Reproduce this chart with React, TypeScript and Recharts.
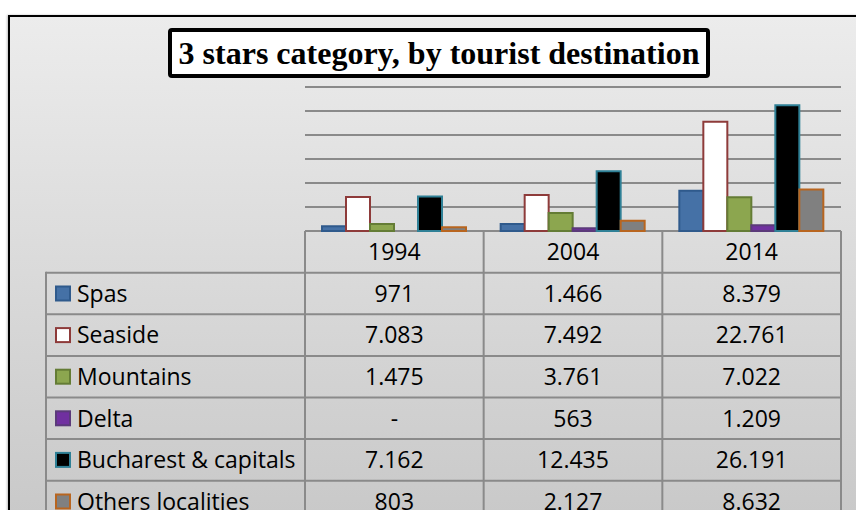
import React from 'react';
import { BarChart, Bar, XAxis, YAxis, CartesianGrid } from 'recharts';

const categories = ['1994', '2004', '2014'];
const seriesNames = ['Spas', 'Seaside', 'Mountains', 'Delta', 'Bucharest & capitals', 'Others localities'];
const spas = [971, 1466, 8379];
const seaside = [7083, 7492, 22761];
const mountains = [1475, 3761, 7022];
const delta: (number | null)[] = [null, 563, 1209];
const bucharest = [7162, 12435, 26191];
const others = [803, 2127, 8632];
const yTicks = [0, 5000, 10000, 15000, 20000, 25000, 30000];

const seriesValues = [spas, seaside, mountains, delta, bucharest, others];
const keys = ['spas', 'seaside', 'mountains', 'delta', 'bucharest', 'others'];
const fills = ['#4571a6', '#ffffff', '#8ca64f', '#7030a0', '#000000', '#808080'];
const strokes = ['#2f5a8c', '#8e3b3a', '#647c35', '#5b3a7a', '#2f8096', '#b8651f'];

const data = categories.map((year, i) => {
  const row: Record<string, any> = { year };
  keys.forEach((k, s) => {
    row[k] = seriesValues[s][i];
  });
  return row;
});

function fmt(v: number | null): string {
  if (v === null || v === undefined) return '-';
  const s = String(Math.round(v));
  let out = '';
  for (let i = 0; i < s.length; i++) {
    const fromEnd = s.length - i;
    out += s[i];
    if (fromEnd > 1 && (fromEnd - 1) % 3 === 0) out += '.';
  }
  return out;
}

const W = 856;
const H = 510;
const PLOT_LEFT = 305;
const PLOT_RIGHT = 841;
const PLOT_TOP = 87;
const PLOT_BOTTOM = 231;
const BAND = (PLOT_RIGHT - PLOT_LEFT) / categories.length;
const HEADER_BOTTOM = 272.7;
const ROW_H = 41.6;
const TABLE_LEFT = 46;
const LINE = '#8a8a8a';
const FONT = '"Open Sans", sans-serif';

const TableTick = (props: any) => {
  const { x, index, payload } = props;
  const left = x - BAND / 2;
  const right = x + BAND / 2;
  const rowsY = seriesNames.map((_, r) => HEADER_BOTTOM + r * ROW_H);
  const els: React.ReactNode[] = [];
  // column verticals
  els.push(<line key="vl" x1={left} x2={left} y1={PLOT_BOTTOM} y2={H} stroke={LINE} strokeWidth={2} />);
  if (index === categories.length - 1) {
    els.push(<line key="vr" x1={right} x2={right} y1={PLOT_BOTTOM} y2={H} stroke={LINE} strokeWidth={2} />);
  }
  const hx1 = index === 0 ? TABLE_LEFT : left;
  for (let r = 0; r <= seriesNames.length; r++) {
    const yy = HEADER_BOTTOM + r * ROW_H;
    els.push(<line key={'h' + r} x1={hx1} x2={right} y1={yy} y2={yy} stroke={LINE} strokeWidth={2} />);
  }
  els.push(
    <text key="yr" x={x} y={(PLOT_BOTTOM + HEADER_BOTTOM) / 2 + 8.5} textAnchor="middle" fontFamily={FONT} fontSize={23} fill="#000">
      {payload.value}
    </text>
  );
  seriesValues.forEach((vals, r) => {
    els.push(
      <text key={'v' + r} x={x} y={rowsY[r] + ROW_H / 2 + 8.3} textAnchor="middle" fontFamily={FONT} fontSize={23} fill="#000">
        {fmt(vals[index])}
      </text>
    );
  });
  if (index === 0) {
    els.push(<line key="tl" x1={TABLE_LEFT} x2={TABLE_LEFT} y1={HEADER_BOTTOM - 1} y2={H} stroke={LINE} strokeWidth={2} />);
    seriesNames.forEach((name, r) => {
      const cy = rowsY[r] + ROW_H / 2;
      els.push(
        <rect key={'sw' + r} x={56} y={cy - 7} width={14} height={14} fill={fills[r]} stroke={strokes[r]} strokeWidth={2} />
      );
      els.push(
        <text key={'lb' + r} x={77} y={cy + 8.3} fontFamily={FONT} fontSize={23} fill="#000">
          {name}
        </text>
      );
    });
  }
  return <g>{els}</g>;
};

export default function App() {
  return (
    <div style={{ position: 'absolute', left: 0, top: 0, width: W, height: H, overflow: 'hidden', background: '#ffffff' }}>
      <div
        style={{
          position: 'absolute',
          left: 8,
          top: 15,
          width: W,
          height: H,
          borderLeft: '2.5px solid #000',
          borderTop: '2px solid #000',
          background: 'linear-gradient(#ececec, #c8c8c8)',
          boxShadow: '-1px 0 2px rgba(0,0,0,0.25)',
        }}
      />
      <div style={{ position: 'absolute', left: 0, top: 0 }}>
        <BarChart
          width={W}
          height={H}
          data={data}
          margin={{ top: PLOT_TOP, right: W - PLOT_RIGHT, left: PLOT_LEFT, bottom: 0 }}
          barSize={24}
          barGap={0}
        >
          <CartesianGrid vertical={false} stroke={LINE} strokeWidth={2} />
          <XAxis
            dataKey="year"
            height={H - PLOT_BOTTOM}
            axisLine={false}
            tickLine={false}
            tick={<TableTick />}
            interval={0}
          />
          <YAxis hide domain={[0, 30000]} ticks={yTicks} />
          {keys.map((k, s) => (
            <Bar key={k} dataKey={k} name={seriesNames[s]} fill={fills[s]} stroke={strokes[s]} strokeWidth={2} isAnimationActive={false} />
          ))}
        </BarChart>
      </div>
      <div
        style={{
          position: 'absolute',
          left: 168,
          top: 28,
          width: 542,
          height: 50,
          boxSizing: 'border-box',
          border: '4px solid #000',
          borderRadius: 4,
          background: '#fff',
          fontFamily: '"Liberation Serif", "Times New Roman", serif',
          fontWeight: 'bold',
          fontSize: 32,
          lineHeight: '43px',
          textAlign: 'center',
          whiteSpace: 'nowrap',
          color: '#000',
        }}
      >
        3 stars category, by tourist destination
      </div>
    </div>
  );
}
